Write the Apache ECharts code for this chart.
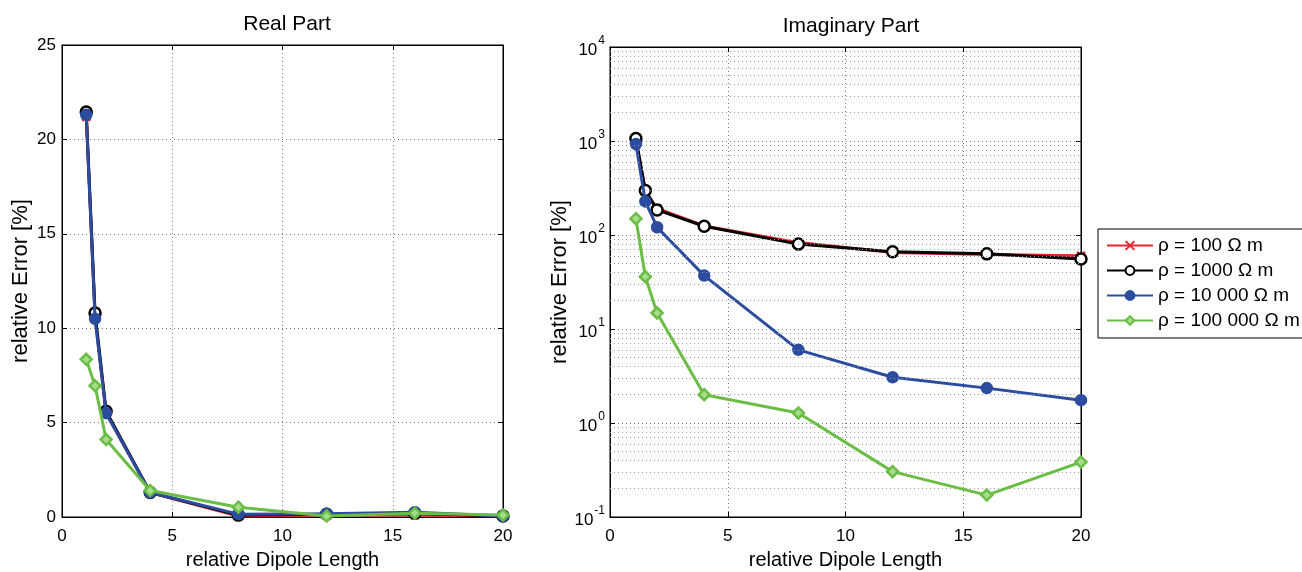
<!DOCTYPE html>
<html>
<head>
<meta charset="utf-8">
<script src="https://cdn.jsdelivr.net/npm/echarts@6/dist/echarts.min.js"></script>
<style>html,body{margin:0;padding:0;background:#fff}#c{width:1302px;height:572px}</style>
</head>
<body>
<div id="c"></div>
<script>
var dipoleLength = [1.1, 1.5, 2, 4, 8, 12, 16, 20];
var seriesNames = ['ρ = 100 Ω m', 'ρ = 1000 Ω m', 'ρ = 10 000 Ω m', 'ρ = 100 000 Ω m'];
var realRho100    = [21.2, 10.6, 5.5, 1.3, 0.05, 0.1, 0.1, 0.05];
var realRho1000   = [21.45, 10.8, 5.6, 1.3, 0.1, 0.15, 0.2, 0.05];
var realRho10000  = [21.3, 10.5, 5.5, 1.3, 0.15, 0.17, 0.25, 0.05];
var realRho100000 = [8.35, 6.95, 4.1, 1.4, 0.52, 0.05, 0.2, 0.1];
var imagRho100    = [1040, 290, 192, 125, 83, 65, 62, 60];
var imagRho1000   = [1064, 297, 185, 124, 80, 66.5, 63, 55.6];
var imagRho10000  = [929, 227, 121, 37, 6.0, 3.07, 2.35, 1.75];
var imagRho100000 = [149, 36, 14.8, 2.0, 1.28, 0.304, 0.171, 0.384];
var xTicks = {min: 0, max: 20, interval: 5};
var realTicks = {min: 0, max: 25, interval: 5};
var imagTicks = {min: 0.1, max: 10000};

var minorLogLines = [];
[0.1, 1, 10, 100, 1000].forEach(function (d) {
  for (var m = 2; m <= 9; m++) minorLogLines.push({yAxis: +(d * m).toPrecision(3)});
});

var FONT = 'Liberation Sans, Arial, Helvetica, sans-serif';
var colors = ['#e8252a', '#000000', '#2b4c9f', '#6abd45'];
var symbols = ['path://M0,0L10,10M10,0L0,10', 'circle', 'circle', 'diamond'];
var symbolSizes = [8, 11, 10, 11];
var fills = ['#e8252a', '#ffffff', '#2b4c9f', '#a6dc8a'];

function zip(ys) { return dipoleLength.map(function (x, i) { return [x, ys[i]]; }); }

function mkSeries(idx, ys, xi, yi, extra) {
  var s = {
    name: seriesNames[idx], type: 'line', xAxisIndex: xi, yAxisIndex: yi,
    data: zip(ys), symbol: symbols[idx], symbolSize: symbolSizes[idx],
    showAllSymbol: true, animation: false,
    lineStyle: {color: colors[idx], width: 3},
    itemStyle: {color: fills[idx], borderColor: colors[idx], borderWidth: 2.5},
    z: 2 + idx
  };
  if (extra) for (var k in extra) s[k] = extra[k];
  return s;
}

var gridLine = {show: true, lineStyle: {color: '#777', type: [1, 3], width: 1}};
var axisLineBlack = {show: true, onZero: false, lineStyle: {color: '#000', width: 1}};
var tickIn = {show: true, inside: true, length: 5, lineStyle: {color: '#000'}};
var labelStyle = {color: '#000', fontSize: 17, fontFamily: FONT};

function xAx(gi, pos, withLabels) {
  return {
    type: 'value', gridIndex: gi, position: pos, min: xTicks.min, max: xTicks.max, interval: xTicks.interval,
    axisLine: axisLineBlack, axisTick: tickIn,
    axisLabel: withLabels ? Object.assign({margin: 11}, labelStyle) : {show: false},
    splitLine: withLabels ? gridLine : {show: false},
    name: withLabels ? 'relative Dipole Length' : '', nameLocation: 'middle', nameGap: 33,
    nameTextStyle: {color: '#000', fontSize: 20, fontFamily: FONT}
  };
}

var option = {
  backgroundColor: '#fff',
  animation: false,
  title: [
    {text: 'Real Part', left: 282, top: 9, textAlign: 'center', textStyle: {color: '#000', fontSize: 21, fontWeight: 'normal', fontFamily: FONT}},
    {text: 'Imaginary Part', left: 846, top: 11, textAlign: 'center', textStyle: {color: '#000', fontSize: 21, fontWeight: 'normal', fontFamily: FONT}}
  ],
  legend: {
    data: seriesNames, orient: 'vertical', left: 1098, top: 229,
    borderColor: '#000', borderWidth: 1, padding: [7, 8, 8, 8], itemGap: 6,
    itemWidth: 46, itemHeight: 11, backgroundColor: '#fff',
    textStyle: {color: '#000', fontSize: 19, fontFamily: FONT}
  },
  grid: [
    {left: 62, top: 45, width: 441, height: 472, outerBoundsMode: 'none', containLabel: false,
      show: true, borderColor: '#000', borderWidth: 1, backgroundColor: 'transparent'},
    {left: 610, top: 47, width: 471, height: 470, outerBoundsMode: 'none', containLabel: false,
      show: true, borderColor: '#000', borderWidth: 1, backgroundColor: 'transparent'}
  ],
  xAxis: [xAx(0, 'bottom', true), xAx(0, 'top', false), xAx(1, 'bottom', true), xAx(1, 'top', false)],
  yAxis: [
    {type: 'value', gridIndex: 0, position: 'left', min: realTicks.min, max: realTicks.max, interval: realTicks.interval,
      axisLine: axisLineBlack, axisTick: tickIn, axisLabel: Object.assign({margin: 6}, labelStyle), splitLine: gridLine,
      name: 'relative Error [%]', nameLocation: 'middle', nameGap: 30,
      nameTextStyle: {color: '#000', fontSize: 22, fontFamily: FONT}},
    {type: 'value', gridIndex: 0, position: 'right', min: realTicks.min, max: realTicks.max, interval: realTicks.interval,
      axisLine: axisLineBlack, axisTick: tickIn, axisLabel: {show: false}, splitLine: {show: false}},
    {type: 'log', logBase: 10, gridIndex: 1, position: 'left', min: imagTicks.min, max: imagTicks.max,
      axisLine: axisLineBlack, axisTick: tickIn, splitLine: gridLine,
      axisLabel: {margin: 5, color: '#000', fontFamily: FONT,
        formatter: function (v) { return '{b|10}{s|' + Math.round(Math.log10(v)) + '}'; },
        rich: {b: {fontSize: 17, fontFamily: FONT, color: '#000', lineHeight: 24, verticalAlign: 'bottom'},
               s: {fontSize: 12, fontFamily: FONT, color: '#000', lineHeight: 24, verticalAlign: 'top', padding: [0, 0, 0, 1]}}},
      name: 'relative Error [%]', nameLocation: 'middle', nameGap: 31,
      nameTextStyle: {color: '#000', fontSize: 22, fontFamily: FONT}},
    {type: 'log', logBase: 10, gridIndex: 1, position: 'right', min: imagTicks.min, max: imagTicks.max,
      axisLine: axisLineBlack, axisTick: tickIn, axisLabel: {show: false}, splitLine: {show: false}}
  ],
  series: [
    mkSeries(0, realRho100, 0, 0),
    mkSeries(1, realRho1000, 0, 0),
    mkSeries(2, realRho10000, 0, 0),
    mkSeries(3, realRho100000, 0, 0),
    mkSeries(0, imagRho100, 2, 2, {markLine: {silent: true, symbol: 'none', animation: false,
      label: {show: false}, lineStyle: {color: '#999', type: [1, 3], width: 1}, data: minorLogLines}}),
    mkSeries(1, imagRho1000, 2, 2),
    mkSeries(2, imagRho10000, 2, 2),
    mkSeries(3, imagRho100000, 2, 2)
  ]
};

var chart = echarts.init(document.getElementById('c'), null, {renderer: 'canvas'});
chart.setOption(option);
</script>
</body>
</html>
